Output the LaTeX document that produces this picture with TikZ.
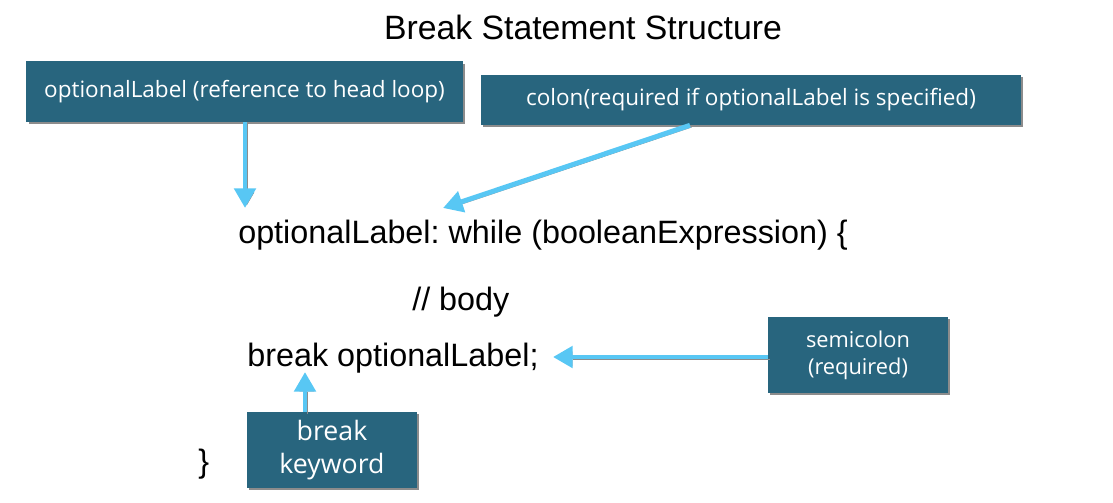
\documentclass[tikz,border=0pt]{standalone}
\usepackage{fontspec}
\setmainfont{Liberation Sans}
\newfontfamily\tagfont{Open Sans}
\usetikzlibrary{arrows.meta,shadows}
\definecolor{tagteal}{RGB}{40,101,126}
\definecolor{pointerblue}{RGB}{88,199,244}
\frenchspacing
\begin{document}
\begin{tikzpicture}[
  x=0.025cm, y=-0.025cm,
  tag/.style={fill=tagteal, text=white, inner sep=0pt, align=center,
    drop shadow={shadow xshift=1.5pt, shadow yshift=-1.5pt, fill=black, opacity=0.45}},
  code/.style={inner sep=0pt, anchor=base west, font=\fontsize{23}{28}\selectfont},
  pointer/.style={-{Triangle[width=15pt, length=14pt]}, line width=3.5pt, pointerblue,
    preaction={draw=black!45, transform canvas={shift={(1.3pt,-1.3pt)}}}}
]
\useasboundingbox (0,0) rectangle (1113,502);
% title
\node (title) [font=\fontsize{24}{28}\selectfont] at (583,27) {Break Statement Structure};
% code lines
\node (loopline) [code] at (238,243) {optionalLabel: while (booleanExpression) \{};
\node (bodyline) [code] at (412,310) {// body};
\node (breakline) [code] at (247,366) {break optionalLabel;};
\node (closing) [code] at (198,472) {\}};
% tags
\node (labeltag) [tag, minimum width=10.9cm, minimum height=1.5cm,
  font=\tagfont\fontsize{16}{19}\selectfont] at (244.5,91.5) {optionalLabel (reference to head loop)};
\node (colontag) [tag, minimum width=13.5cm, minimum height=1.25cm,
  font=\tagfont\fontsize{16}{19}\selectfont] at (751,100) {colon(required if optionalLabel is specified)};
\node (semitag) [tag, minimum width=4.5cm, minimum height=1.9cm,
  font=\tagfont\fontsize{15.5}{19}\selectfont] at (858,355) {semicolon\\(required)};
\node (keytag) [tag, minimum width=4.25cm, minimum height=1.9cm,
  font=\tagfont\fontsize{19}{23.5}\selectfont] at (332,450) {break\\keyword};
% arrow tips
\coordinate (labeltip) at (245,208);
\coordinate (colontip) at (443,208);
\coordinate (semitip) at (553,357);
\coordinate (keytip) at (305,372);
% pointers
\draw [pointer] (labeltag.south -| labeltip) -- (labeltip);
\draw [pointer] (colontag.south -| 690,0) -- (colontip);
\draw [pointer] (semitag.west |- semitip) -- (semitip);
\draw [pointer] (keytag.north -| keytip) -- (keytip);
\end{tikzpicture}
\end{document}
